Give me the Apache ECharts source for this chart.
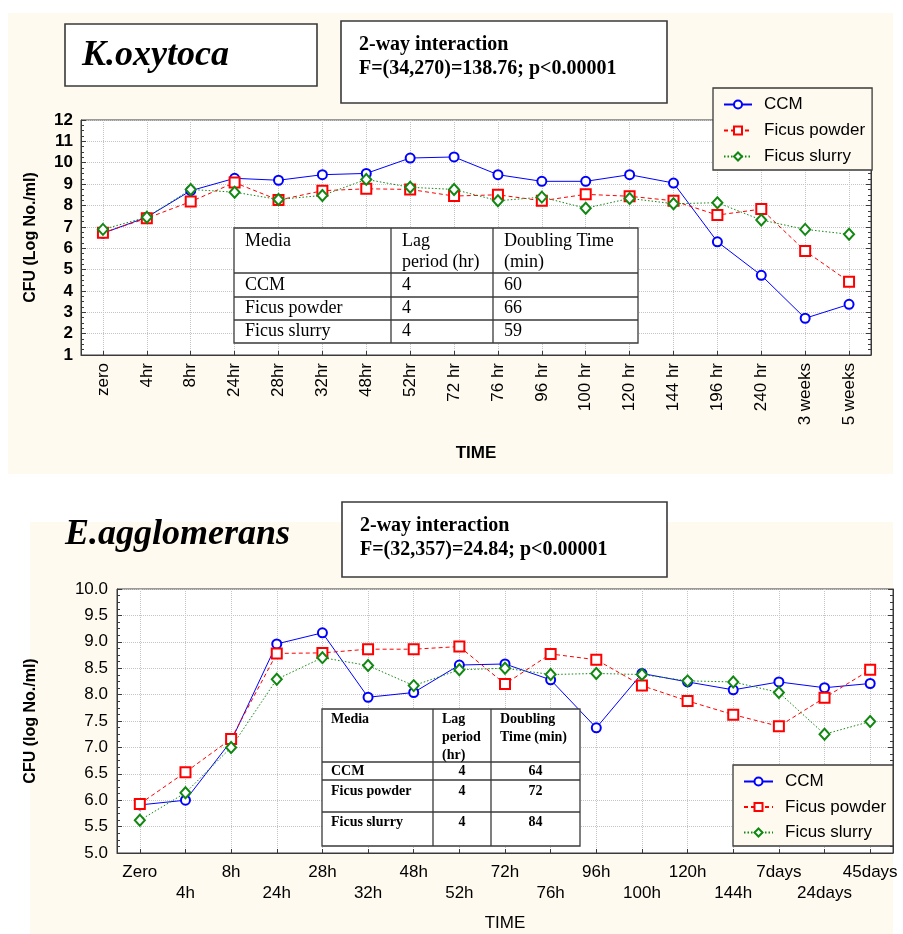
<!DOCTYPE html>
<html>
<head>
<meta charset="utf-8">
<title>K.oxytoca and E.agglomerans growth</title>
<script src="https://cdn.jsdelivr.net/npm/echarts@6/dist/echarts.min.js"></script>
<style>
  html, body { margin: 0; padding: 0; background: #ffffff; }
  #chart { width: 903px; height: 934px; }
</style>
</head>
<body>
<div id="chart"></div>
<script>
// ---- K.oxytoca: CFU (Log No./ml) over time ----
const koxyTimes = ['zero', '4hr', '8hr', '24hr', '28hr', '32hr', '48hr', '52hr', '72 hr', '76 hr',
  '96 hr', '100 hr', '120 hr', '144 hr', '196 hr', '240 hr', '3 weeks', '5 weeks'];
const koxyCCM = [6.70, 7.45, 8.69, 9.27, 9.18, 9.44, 9.50, 10.22, 10.27, 9.44,
  9.13, 9.13, 9.44, 9.05, 6.30, 4.73, 2.72, 3.37];
const koxyPowder = [6.72, 7.40, 8.18, 9.07, 8.25, 8.69, 8.78, 8.75, 8.44, 8.50,
  8.22, 8.52, 8.43, 8.22, 7.55, 7.83, 5.87, 4.43];
const koxySlurry = [6.88, 7.45, 8.75, 8.62, 8.28, 8.47, 9.22, 8.85, 8.75, 8.22,
  8.39, 7.87, 8.33, 8.08, 8.13, 7.32, 6.88, 6.65];
const koxyTable = [
  ['Media', 'Lag\nperiod (hr)', 'Doubling Time\n(min)'],
  ['CCM', '4', '60'],
  ['Ficus powder', '4', '66'],
  ['Ficus slurry', '4', '59']
];
const koxyStats = ['2-way interaction', 'F=(34,270)=138.76; p<0.00001'];

// ---- E.agglomerans: CFU (log No./ml) over time ----
const eaggTimes = ['Zero', '4h', '8h', '24h', '28h', '32h', '48h', '52h', '72h', '76h',
  '96h', '100h', '120h', '144h', '7days', '24days', '45days'];
const eaggCCM = [5.91, 6.00, 7.12, 8.96, 9.17, 7.95, 8.04, 8.56, 8.58, 8.28,
  7.37, 8.40, 8.24, 8.09, 8.24, 8.13, 8.21];
const eaggPowder = [5.93, 6.53, 7.16, 8.78, 8.79, 8.86, 8.86, 8.91, 8.20, 8.77,
  8.66, 8.17, 7.88, 7.62, 7.40, 7.94, 8.47];
const eaggSlurry = [5.62, 6.14, 7.00, 8.29, 8.70, 8.55, 8.17, 8.47, 8.50, 8.38,
  8.40, 8.38, 8.26, 8.24, 8.04, 7.25, 7.49];
const eaggTable = [
  ['Media', 'Lag\nperiod\n(hr)', 'Doubling\nTime (min)'],
  ['CCM', '4', '64'],
  ['Ficus powder', '4', '72'],
  ['Ficus slurry', '4', '84']
];
const eaggStats = ['2-way interaction', 'F=(32,357)=24.84; p<0.00001'];

const mediaNames = ['CCM', 'Ficus powder', 'Ficus slurry'];

// ---- styling ----
const CREAM = '#fefaef';
const FRAME = '#3a3a3a';
const SANS = 'Arial, "Liberation Sans", sans-serif';
const SERIF = '"Times New Roman", "Liberation Serif", serif';
const mediaStyle = {
  'CCM': { color: '#0000ff', symbol: 'circle', size: 9, line: 'solid' },
  'Ficus powder': { color: '#ff0000', symbol: 'rect', size: 10, line: [4, 3] },
  'Ficus slurry': { color: '#118811', symbol: 'diamond', size: [10, 11], line: [1.5, 2] }
};

function mediaSeries(name, data, axisIndex) {
  const s = mediaStyle[name];
  return {
    type: 'line', name: name, data: data,
    xAxisIndex: axisIndex, yAxisIndex: axisIndex * 2,
    symbol: s.symbol, symbolSize: s.size, showAllSymbol: true,
    lineStyle: { color: s.color, width: 1, type: s.line },
    itemStyle: { color: '#ffffff', borderColor: s.color, borderWidth: 2 },
    emphasis: { disabled: true },
    animation: false
  };
}

function categoryAxis(gridIndex, data, extra) {
  return Object.assign({
    type: 'category', gridIndex: gridIndex, data: data, boundaryGap: true,
    axisLine: { lineStyle: { color: FRAME, width: 1 } },
    axisTick: { show: true, inside: true, alignWithLabel: true, length: 4, lineStyle: { color: FRAME } },
    splitLine: { show: true, alignWithLabel: true, interval: 0,
      lineStyle: { color: '#c4c4c4', type: 'dotted', width: 1 } },
    nameLocation: 'middle'
  }, extra);
}

function valueAxis(gridIndex, min, max, interval, position, extra) {
  const left = position === 'left';
  return Object.assign({
    type: 'value', gridIndex: gridIndex, min: min, max: max, interval: interval, position: position,
    axisLine: { show: true, lineStyle: { color: FRAME, width: 1 } },
    axisTick: { show: true, inside: true, length: 5, lineStyle: { color: FRAME } },
    minorTick: { show: true, splitNumber: 4, length: 3, lineStyle: { color: FRAME } },
    splitLine: { show: left, lineStyle: { color: '#c4c4c4', type: 'dotted', width: 1 } },
    axisLabel: { show: left },
    nameLocation: 'middle'
  }, extra);
}

// Table made of ruled cells; cols/rows are the cell edges in pixels.
function tableGraphic(table, cols, rows, opts) {
  const els = [];
  els.push({ type: 'rect', z: 20,
    shape: { x: cols[0], y: rows[0], width: cols[cols.length - 1] - cols[0], height: rows[rows.length - 1] - rows[0] },
    style: { fill: '#ffffff', stroke: FRAME, lineWidth: 1.3 } });
  for (let i = 1; i < rows.length - 1; i++) {
    els.push({ type: 'line', z: 21, shape: { x1: cols[0], y1: rows[i], x2: cols[cols.length - 1], y2: rows[i] },
      style: { stroke: FRAME, lineWidth: 1.3 } });
  }
  for (let j = 1; j < cols.length - 1; j++) {
    els.push({ type: 'line', z: 21, shape: { x1: cols[j], y1: rows[0], x2: cols[j], y2: rows[rows.length - 1] },
      style: { stroke: FRAME, lineWidth: 1.3 } });
  }
  table.forEach(function (row, r) {
    row.forEach(function (cell, c) {
      const centered = r > 0 && opts.centerValues && c > 0;
      const x = centered ? (cols[c] + cols[c + 1]) / 2 : cols[c] + opts.padX;
      const y = r === 0 ? rows[0] + opts.headTop : opts.rowY[r - 1];
      els.push({ type: 'text', z: 22, x: x, y: y,
        style: { text: cell, fill: '#000', font: opts.font, lineHeight: opts.lineHeight,
          align: centered ? 'center' : 'left', verticalAlign: r === 0 ? 'top' : 'middle' } });
    });
  });
  return els;
}

function statsBox(lines, x, y, w, h) {
  return [
    { type: 'rect', z: 20, shape: { x: x, y: y, width: w, height: h },
      style: { fill: '#ffffff', stroke: FRAME, lineWidth: 1.6 } },
    { type: 'text', z: 21, x: x + 18, y: y + 24,
      style: { text: lines[0], fill: '#000', font: 'bold 20px ' + SERIF, verticalAlign: 'middle' } },
    { type: 'text', z: 21, x: x + 18, y: y + 48,
      style: { text: lines[1], fill: '#000', font: 'bold 20px ' + SERIF, verticalAlign: 'middle' } }
  ];
}

const graphics = [].concat(
  [
    { type: 'rect', z: -10, shape: { x: 8, y: 13, width: 885, height: 461 }, style: { fill: CREAM } },
    { type: 'rect', z: -10, shape: { x: 30, y: 522, width: 863, height: 412 }, style: { fill: CREAM } },
    { type: 'rect', z: 20, shape: { x: 65, y: 24, width: 252, height: 62 },
      style: { fill: '#ffffff', stroke: FRAME, lineWidth: 1.6 } },
    { type: 'text', z: 21, x: 82, y: 56,
      style: { text: 'K.oxytoca', fill: '#000', font: 'italic bold 36px ' + SERIF, verticalAlign: 'middle' } },
    { type: 'text', z: 21, x: 65, y: 535,
      style: { text: 'E.agglomerans', fill: '#000', font: 'italic bold 36px ' + SERIF, verticalAlign: 'middle' } }
  ],
  statsBox(koxyStats, 341, 21, 326, 82),
  statsBox(eaggStats, 342, 502, 325, 75),
  tableGraphic(koxyTable, [234, 391, 493, 638], [228, 273, 297, 320, 343], {
    font: '18px ' + SERIF, lineHeight: 21, padX: 11, headTop: 3, rowY: [285, 308.5, 331.5], centerValues: false
  }),
  tableGraphic(eaggTable, [322, 433, 491, 580], [709, 762, 780, 812, 846], {
    font: 'bold 14px ' + SERIF, lineHeight: 18, padX: 9, headTop: 1, rowY: [771, 791, 822], centerValues: false
  })
);

// centre the numeric cells of the lower table
graphics.forEach(function (g) {
  if (g.type === 'text' && g.y >= 771 && g.y <= 822 && g.x > 430 && g.x < 590) {
    if (g.x < 491) { g.x = (433 + 491) / 2; } else { g.x = (491 + 580) / 2; }
    g.style.align = 'center';
  }
});

const legendText = { fontSize: 17, color: '#000', lineHeight: 14, padding: [0, 0, 0, 7], fontFamily: SANS };

const chart = echarts.init(document.getElementById('chart'), null, { renderer: 'canvas' });
chart.setOption({
  backgroundColor: '#ffffff',
  animation: false,
  textStyle: { fontFamily: SANS },
  grid: [
    { left: 81, top: 120, width: 790, height: 235, show: true, backgroundColor: '#ffffff',
      borderColor: FRAME, borderWidth: 1 },
    { left: 117, top: 589, width: 776, height: 264, show: true, backgroundColor: '#ffffff',
      borderColor: FRAME, borderWidth: 1 }
  ],
  xAxis: [
    categoryAxis(0, koxyTimes, {
      name: 'TIME', nameGap: 90,
      nameTextStyle: { fontSize: 17, fontWeight: 'bold', color: '#000', fontFamily: SANS },
      axisLabel: { rotate: 90, interval: 0, margin: 8, fontSize: 17, color: '#000', fontFamily: SANS }
    }),
    categoryAxis(1, eaggTimes, {
      name: 'TIME', nameGap: 62,
      nameTextStyle: { fontSize: 17, color: '#000', fontFamily: SANS },
      axisLabel: { interval: 0, margin: 9, fontSize: 17, lineHeight: 21, color: '#000', fontFamily: SANS,
        formatter: function (v, i) { return i % 2 ? '\n' + v : v; } }
    })
  ],
  yAxis: [
    valueAxis(0, 1, 12, 1, 'left', {
      name: 'CFU (Log No./ml)', nameGap: 42,
      nameTextStyle: { fontSize: 16, fontWeight: 'bold', color: '#000', fontFamily: SANS },
      axisLabel: { show: true, margin: 8, fontSize: 17, fontWeight: 'bold', color: '#000', fontFamily: SANS }
    }),
    valueAxis(0, 1, 12, 1, 'right', {}),
    valueAxis(1, 5, 10, 0.5, 'left', {
      name: 'CFU (log No./ml)', nameGap: 78,
      nameTextStyle: { fontSize: 16, fontWeight: 'bold', color: '#000', fontFamily: SANS },
      axisLabel: { show: true, margin: 9, fontSize: 17, color: '#000', fontFamily: SANS,
        formatter: function (v) { return v.toFixed(1); } }
    }),
    valueAxis(1, 5, 10, 0.5, 'right', {})
  ],
  legend: [
    { orient: 'vertical', left: 713, top: 88, data: mediaNames, selectedMode: false,
      padding: [8, 7, 5, 10], itemGap: 9, itemWidth: 28, itemHeight: 10,
      backgroundColor: CREAM, borderColor: FRAME, borderWidth: 1.3, textStyle: legendText },
    { orient: 'vertical', left: 733, top: 765, data: mediaNames, selectedMode: false,
      padding: [8, 7, 5, 10], itemGap: 8.5, itemWidth: 29, itemHeight: 10,
      backgroundColor: CREAM, borderColor: FRAME, borderWidth: 1.3, textStyle: legendText }
  ],
  graphic: graphics,
  series: [
    mediaSeries('CCM', koxyCCM, 0),
    mediaSeries('Ficus powder', koxyPowder, 0),
    mediaSeries('Ficus slurry', koxySlurry, 0),
    mediaSeries('CCM', eaggCCM, 1),
    mediaSeries('Ficus powder', eaggPowder, 1),
    mediaSeries('Ficus slurry', eaggSlurry, 1)
  ]
});
</script>
</body>
</html>
